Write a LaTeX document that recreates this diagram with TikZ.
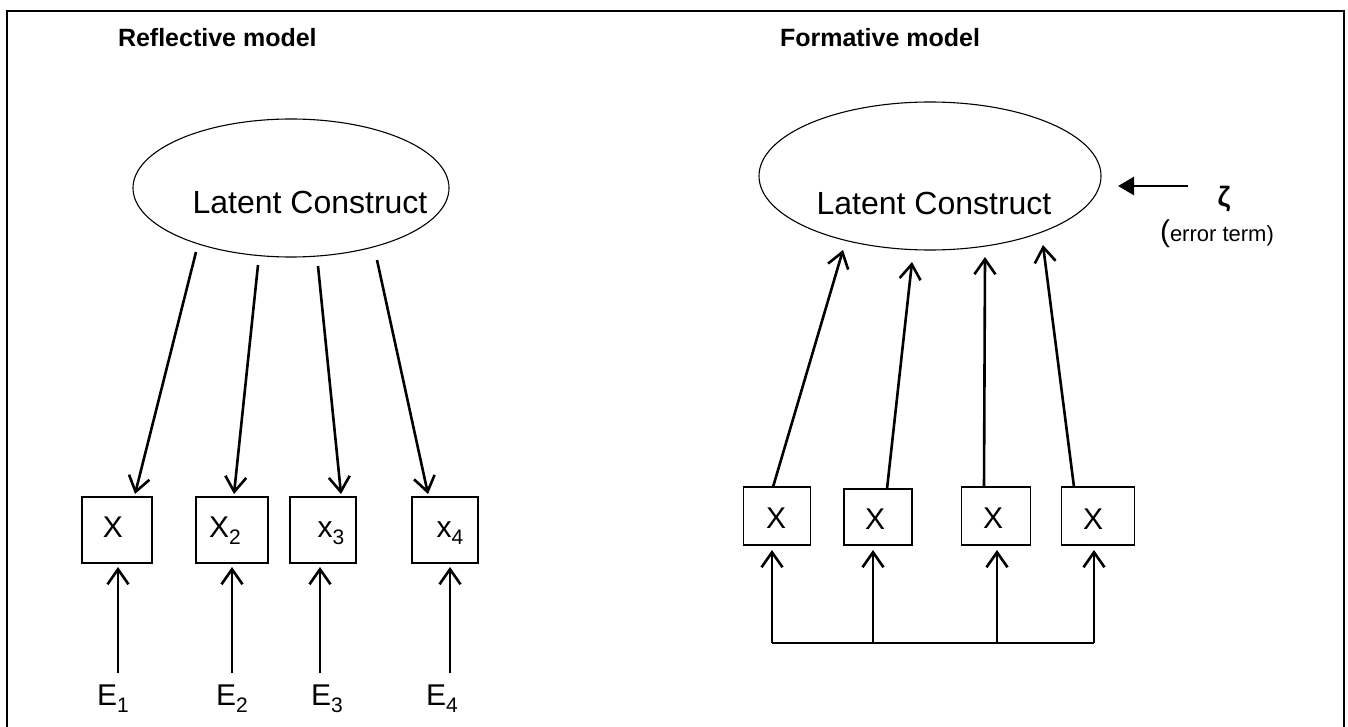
\documentclass[tikz,border=0pt]{standalone}
\usepackage{fontspec}
\setmainfont{Liberation Sans}
\usetikzlibrary{arrows.meta,shapes.geometric}
\newcommand\lowidx[1]{\raisebox{-0.24em}{\fontsize{21}{21}\selectfont #1}}
\tikzset{
  every node/.style={inner sep=0pt, outer sep=0pt},
  obox/.style={draw, line width=1.4pt},
  latell/.style={ellipse, draw, line width=1.1pt},
  arr/.style={line width=2.6pt, -{Straight Barb[length=15pt,width=21pt,line width=2.6pt]}},
  zarr/.style={line width=2.6pt, -{Triangle[length=16pt,width=18pt]}},
  title/.style={font=\fontsize{25}{30}\selectfont\bfseries, anchor=base west},
  lat/.style={font=\fontsize{32}{38}\selectfont},
  lbl/.style={font=\fontsize{30}{36}\selectfont, anchor=base},
}
\begin{document}
\begin{tikzpicture}[x=1pt,y=-1pt]
\useasboundingbox (0,0) rectangle (1348,727);
\clip (0,0) rectangle (1348,727);
% frame
\draw[line width=2.2pt] (7,740) -- (7,11) -- (1344,11) -- (1344,740);

% titles
\node[title] (t1) at (118,47) {Reflective model};
\node[title] (t2) at (780,47) {Formative model};

% ===== Reflective =====
\node[latell, minimum width=316pt, minimum height=138pt] (le) at (291,188) {};
\node[lat] (let) at (310,202) {Latent Construct};

\node[obox, minimum width=70pt, minimum height=66pt] (lb1) at (117,530) {};
\node[obox, minimum width=72pt, minimum height=66pt] (lb2) at (232,530) {};
\node[obox, minimum width=66pt, minimum height=66pt] (lb3) at (323,530) {};
\node[obox, minimum width=66pt, minimum height=66pt] (lb4) at (445,530) {};
\node[lbl] (lx1) at (113,537) {X};
\node[lbl] (lx2) at (225,537) {X\lowidx{2}};
\node[lbl] (lx3) at (331,537) {x\lowidx{3}};
\node[lbl] (lx4) at (450,537) {x\lowidx{4}};

\coordinate (ls1) at (196,252);
\coordinate (ls2) at (258,265);
\coordinate (ls3) at (318,266);
\coordinate (ls4) at (377,260);
\coordinate (lt1) at (135,494);
\coordinate (lt2) at (234,494);
\coordinate (lt3) at (341,494);
\coordinate (lt4) at (428,494);
\draw[arr] (ls1) -- (lt1);
\draw[arr] (ls2) -- (lt2);
\draw[arr] (ls3) -- (lt3);
\draw[arr] (ls4) -- (lt4);

\node[lbl] (e1) at (113,705) {E\lowidx{1}};
\node[lbl] (e2) at (232,705) {E\lowidx{2}};
\node[lbl] (e3) at (327,705) {E\lowidx{3}};
\node[lbl] (e4) at (442,705) {E\lowidx{4}};
\coordinate (eb1) at (118,673);
\coordinate (eb2) at (232,673);
\coordinate (eb3) at (320,673);
\coordinate (eb4) at (450,673);
\draw[arr] (eb1) -- ([yshift=-4pt]eb1 |- lb1.south);
\draw[arr] (eb2) -- ([yshift=-4pt]eb2 |- lb2.south);
\draw[arr] (eb3) -- ([yshift=-4pt]eb3 |- lb3.south);
\draw[arr] (eb4) -- ([yshift=-4pt]eb4 |- lb4.south);

% ===== Formative =====
\node[latell, minimum width=342pt, minimum height=148pt] (re) at (930,176) {};
\node[lat] (ret) at (934,203) {Latent Construct};

\node[obox, minimum width=67pt, minimum height=58pt] (rb1) at (777,516) {};
\node[obox, minimum width=68pt, minimum height=56pt] (rb2) at (878,517) {};
\node[obox, minimum width=69pt, minimum height=58pt] (rb3) at (996,516) {};
\node[obox, minimum width=73pt, minimum height=58pt] (rb4) at (1098,516) {};
\node[lbl] (rx1) at (776,528) {X};
\node[lbl] (rx2) at (875,529) {X};
\node[lbl] (rx3) at (993,528) {X};
\node[lbl] (rx4) at (1093,529) {X};

\coordinate (rs1) at (773,487);
\coordinate (rs2) at (887,489);
\coordinate (rs3) at (984,487);
\coordinate (rs4) at (1074,487);
\coordinate (rt1) at (843,250);
\coordinate (rt2) at (912,262);
\coordinate (rt3) at (985,257);
\coordinate (rt4) at (1043,245);
\draw[arr] (rs1) -- (rt1);
\draw[arr] (rs2) -- (rt2);
\draw[arr] (rs3) -- (rt3);
\draw[arr] (rs4) -- (rt4);

\coordinate (bu1) at (772,643);
\coordinate (bu2) at (873,643);
\coordinate (bu3) at (997,643);
\coordinate (bu4) at (1094,643);
\draw[line width=2.6pt] (bu1) -- (bu4);
\draw[arr] (bu1) -- ([yshift=-5pt]bu1 |- rb1.south);
\draw[arr] (bu2) -- ([yshift=-5pt]bu2 |- rb2.south);
\draw[arr] (bu3) -- ([yshift=-5pt]bu3 |- rb3.south);
\draw[arr] (bu4) -- ([yshift=-5pt]bu4 |- rb4.south);

% error term
\node[font=\fontsize{28}{30}\selectfont\bfseries] (zeta) at (1224,199) {ζ};
\coordinate (za) at (1188,186);
\coordinate (zb) at (1118,186);
\draw[zarr] (za) -- (zb);
\node[anchor=base west] (err) at (1160,241) {{\fontsize{30}{34}\selectfont(}{\fontsize{22}{26}\selectfont error term)}};
\end{tikzpicture}
\end{document}
